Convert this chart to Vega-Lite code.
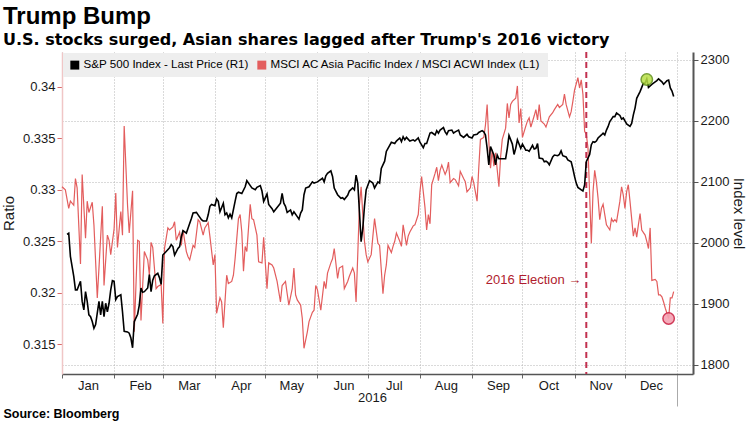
{
  "$schema": "https://vega.github.io/schema/vega-lite/v6.json",
  "width": 631,
  "height": 322,
  "autosize": {"type": "none"},
  "padding": {"left": 62, "top": 52, "right": 57, "bottom": 48},
  "background": "#ffffff",
  "config": {
    "font": "Liberation Sans",
    "view": {"stroke": null},
    "legend": {
      "orient": "top-left",
      "direction": "horizontal",
      "fillColor": "#eeeeee",
      "padding": 6,
      "offset": 1,
      "labelFontSize": 11.6,
      "labelColor": "#000000",
      "symbolType": "square",
      "symbolSize": 80,
      "labelOffset": 3,
      "columnPadding": 7,
      "labelLimit": 400
    }
  },
  "title": {
    "text": "Trump Bump",
    "subtitle": "U.S. stocks surged, Asian shares lagged after Trump's 2016 victory",
    "anchor": "start",
    "frame": "group",
    "dx": -59,
    "offset": 3,
    "fontSize": 24,
    "fontWeight": "bold",
    "color": "#000000",
    "subtitleFont": "DejaVu Sans",
    "subtitleFontSize": 16,
    "subtitleFontWeight": "bold",
    "subtitleColor": "#000000",
    "subtitlePadding": 3
  },
  "datasets": {
    "sp": [
      {"d":"2016/01/04","v":2014},{"d":"2016/01/05","v":2016},{"d":"2016/01/06","v":1978},{"d":"2016/01/08","v":1945},{"d":"2016/01/09","v":1923},{"d":"2016/01/10","v":1923},{"d":"2016/01/12","v":1937},{"d":"2016/01/13","v":1904},{"d":"2016/01/14","v":1890},{"d":"2016/01/15","v":1920},{"d":"2016/01/16","v":1904},{"d":"2016/01/17","v":1882},{"d":"2016/01/18","v":1879},{"d":"2016/01/19","v":1871},{"d":"2016/01/20","v":1860},{"d":"2016/01/21","v":1866},{"d":"2016/01/23","v":1904},{"d":"2016/01/24","v":1882},{"d":"2016/01/25","v":1904},{"d":"2016/01/26","v":1879},{"d":"2016/01/27","v":1901},{"d":"2016/01/28","v":1887},{"d":"2016/01/29","v":1901},{"d":"2016/01/30","v":1923},{"d":"2016/01/31","v":1938},
      {"d":"2016/02/01","v":1937},{"d":"2016/02/02","v":1907},{"d":"2016/02/03","v":1912},{"d":"2016/02/05","v":1915},{"d":"2016/02/06","v":1887},{"d":"2016/02/07","v":1855},{"d":"2016/02/09","v":1854},{"d":"2016/02/10","v":1852},{"d":"2016/02/11","v":1844},{"d":"2016/02/12","v":1828},{"d":"2016/02/13","v":1871},{"d":"2016/02/15","v":1883},{"d":"2016/02/16","v":1898},{"d":"2016/02/17","v":1926},{"d":"2016/02/18","v":1919},{"d":"2016/02/19","v":1920},{"d":"2016/02/21","v":1926},{"d":"2016/02/22","v":1948},{"d":"2016/02/23","v":1920},{"d":"2016/02/24","v":1939},{"d":"2016/02/25","v":1946},{"d":"2016/02/27","v":1950},{"d":"2016/02/28","v":1943},{"d":"2016/02/29","v":1932},
      {"d":"2016/03/01","v":1980},{"d":"2016/03/03","v":1986},{"d":"2016/03/05","v":1992},{"d":"2016/03/06","v":1997},{"d":"2016/03/07","v":1994},{"d":"2016/03/08","v":1980},{"d":"2016/03/10","v":1991},{"d":"2016/03/11","v":1994},{"d":"2016/03/12","v":2010},{"d":"2016/03/13","v":2020},{"d":"2016/03/15","v":2016},{"d":"2016/03/16","v":2024},{"d":"2016/03/18","v":2040},{"d":"2016/03/19","v":2049},{"d":"2016/03/21","v":2050},{"d":"2016/03/22","v":2046},{"d":"2016/03/24","v":2038},{"d":"2016/03/25","v":2036},{"d":"2016/03/27","v":2036},{"d":"2016/03/28","v":2046},{"d":"2016/03/29","v":2060},{"d":"2016/03/30","v":2063},
      {"d":"2016/04/01","v":2061},{"d":"2016/04/02","v":2072},{"d":"2016/04/03","v":2068},{"d":"2016/04/04","v":2051},{"d":"2016/04/06","v":2065},{"d":"2016/04/07","v":2046},{"d":"2016/04/08","v":2049},{"d":"2016/04/09","v":2041},{"d":"2016/04/10","v":2047},{"d":"2016/04/11","v":2041},{"d":"2016/04/13","v":2068},{"d":"2016/04/14","v":2081},{"d":"2016/04/15","v":2083},{"d":"2016/04/17","v":2081},{"d":"2016/04/19","v":2092},{"d":"2016/04/20","v":2102},{"d":"2016/04/21","v":2098},{"d":"2016/04/23","v":2090},{"d":"2016/04/25","v":2087},{"d":"2016/04/26","v":2091},{"d":"2016/04/28","v":2094},{"d":"2016/04/29","v":2085},{"d":"2016/04/30","v":2068},
      {"d":"2016/05/02","v":2080},{"d":"2016/05/03","v":2063},{"d":"2016/05/05","v":2056},{"d":"2016/05/06","v":2051},{"d":"2016/05/08","v":2058},{"d":"2016/05/10","v":2065},{"d":"2016/05/11","v":2081},{"d":"2016/05/12","v":2065},{"d":"2016/05/13","v":2060},{"d":"2016/05/14","v":2050},{"d":"2016/05/16","v":2054},{"d":"2016/05/17","v":2046},{"d":"2016/05/18","v":2051},{"d":"2016/05/20","v":2043},{"d":"2016/05/21","v":2039},{"d":"2016/05/22","v":2049},{"d":"2016/05/23","v":2054},{"d":"2016/05/24","v":2079},{"d":"2016/05/25","v":2090},{"d":"2016/05/27","v":2092},{"d":"2016/05/29","v":2100},{"d":"2016/05/30","v":2098},
      {"d":"2016/06/01","v":2100},{"d":"2016/06/02","v":2102},{"d":"2016/06/04","v":2106},{"d":"2016/06/05","v":2100},{"d":"2016/06/06","v":2110},{"d":"2016/06/07","v":2114},{"d":"2016/06/09","v":2118},{"d":"2016/06/10","v":2109},{"d":"2016/06/11","v":2090},{"d":"2016/06/13","v":2079},{"d":"2016/06/15","v":2073},{"d":"2016/06/16","v":2074},{"d":"2016/06/17","v":2071},{"d":"2016/06/19","v":2078},{"d":"2016/06/20","v":2085},{"d":"2016/06/22","v":2090},{"d":"2016/06/23","v":2087},{"d":"2016/06/24","v":2111},{"d":"2016/06/25","v":2098},{"d":"2016/06/26","v":2051},{"d":"2016/06/27","v":2002},{"d":"2016/06/28","v":2024},{"d":"2016/06/29","v":2060},{"d":"2016/06/30","v":2087},
      {"d":"2016/07/02","v":2102},{"d":"2016/07/04","v":2098},{"d":"2016/07/05","v":2090},{"d":"2016/07/07","v":2100},{"d":"2016/07/08","v":2098},{"d":"2016/07/09","v":2122},{"d":"2016/07/11","v":2134},{"d":"2016/07/12","v":2150},{"d":"2016/07/13","v":2155},{"d":"2016/07/14","v":2160},{"d":"2016/07/15","v":2165},{"d":"2016/07/17","v":2163},{"d":"2016/07/18","v":2167},{"d":"2016/07/20","v":2172},{"d":"2016/07/21","v":2166},{"d":"2016/07/22","v":2174},{"d":"2016/07/23","v":2169},{"d":"2016/07/24","v":2173},{"d":"2016/07/26","v":2167},{"d":"2016/07/28","v":2169},{"d":"2016/07/29","v":2167},{"d":"2016/07/31","v":2172},
      {"d":"2016/08/01","v":2165},{"d":"2016/08/03","v":2156},{"d":"2016/08/04","v":2163},{"d":"2016/08/05","v":2163},{"d":"2016/08/07","v":2180},{"d":"2016/08/08","v":2181},{"d":"2016/08/10","v":2177},{"d":"2016/08/11","v":2184},{"d":"2016/08/12","v":2180},{"d":"2016/08/13","v":2185},{"d":"2016/08/15","v":2189},{"d":"2016/08/16","v":2182},{"d":"2016/08/17","v":2178},{"d":"2016/08/18","v":2184},{"d":"2016/08/20","v":2185},{"d":"2016/08/21","v":2180},{"d":"2016/08/22","v":2182},{"d":"2016/08/24","v":2185},{"d":"2016/08/25","v":2177},{"d":"2016/08/27","v":2173},{"d":"2016/08/29","v":2178},{"d":"2016/08/30","v":2174},
      {"d":"2016/09/01","v":2172},{"d":"2016/09/02","v":2177},{"d":"2016/09/04","v":2178},{"d":"2016/09/05","v":2181},{"d":"2016/09/07","v":2184},{"d":"2016/09/08","v":2182},{"d":"2016/09/09","v":2177},{"d":"2016/09/10","v":2155},{"d":"2016/09/11","v":2128},{"d":"2016/09/12","v":2158},{"d":"2016/09/14","v":2144},{"d":"2016/09/15","v":2128},{"d":"2016/09/16","v":2144},{"d":"2016/09/17","v":2138},{"d":"2016/09/19","v":2138},{"d":"2016/09/21","v":2138},{"d":"2016/09/22","v":2155},{"d":"2016/09/23","v":2176},{"d":"2016/09/25","v":2162},{"d":"2016/09/26","v":2145},{"d":"2016/09/27","v":2155},{"d":"2016/09/28","v":2169},{"d":"2016/09/30","v":2155},
      {"d":"2016/10/01","v":2162},{"d":"2016/10/03","v":2152},{"d":"2016/10/04","v":2152},{"d":"2016/10/05","v":2150},{"d":"2016/10/07","v":2160},{"d":"2016/10/08","v":2154},{"d":"2016/10/09","v":2155},{"d":"2016/10/10","v":2163},{"d":"2016/10/11","v":2139},{"d":"2016/10/13","v":2138},{"d":"2016/10/14","v":2133},{"d":"2016/10/15","v":2134},{"d":"2016/10/16","v":2132},{"d":"2016/10/17","v":2128},{"d":"2016/10/19","v":2141},{"d":"2016/10/20","v":2144},{"d":"2016/10/22","v":2143},{"d":"2016/10/23","v":2145},{"d":"2016/10/24","v":2151},{"d":"2016/10/25","v":2143},{"d":"2016/10/27","v":2141},{"d":"2016/10/28","v":2136},{"d":"2016/10/30","v":2133},{"d":"2016/10/31","v":2122},
      {"d":"2016/11/01","v":2109},{"d":"2016/11/02","v":2098},{"d":"2016/11/03","v":2091},{"d":"2016/11/05","v":2087},{"d":"2016/11/06","v":2085},{"d":"2016/11/07","v":2095},{"d":"2016/11/08","v":2133},{"d":"2016/11/09","v":2139},{"d":"2016/11/10","v":2145},{"d":"2016/11/11","v":2161},{"d":"2016/11/12","v":2166},{"d":"2016/11/13","v":2165},{"d":"2016/11/14","v":2167},{"d":"2016/11/15","v":2172},{"d":"2016/11/17","v":2177},{"d":"2016/11/18","v":2180},{"d":"2016/11/19","v":2177},{"d":"2016/11/20","v":2185},{"d":"2016/11/21","v":2191},{"d":"2016/11/22","v":2199},{"d":"2016/11/23","v":2203},{"d":"2016/11/24","v":2207},{"d":"2016/11/25","v":2207},{"d":"2016/11/26","v":2213},{"d":"2016/11/28","v":2209},{"d":"2016/11/29","v":2203},{"d":"2016/11/30","v":2205},
      {"d":"2016/12/01","v":2200},{"d":"2016/12/02","v":2195},{"d":"2016/12/04","v":2191},{"d":"2016/12/05","v":2196},{"d":"2016/12/06","v":2210},{"d":"2016/12/07","v":2221},{"d":"2016/12/08","v":2237},{"d":"2016/12/10","v":2248},{"d":"2016/12/11","v":2255},{"d":"2016/12/12","v":2262},{"d":"2016/12/13","v":2262},{"d":"2016/12/14","v":2269},{"d":"2016/12/15","v":2255},{"d":"2016/12/17","v":2260},{"d":"2016/12/18","v":2262},{"d":"2016/12/19","v":2264},{"d":"2016/12/20","v":2266},{"d":"2016/12/21","v":2269},{"d":"2016/12/23","v":2264},{"d":"2016/12/24","v":2260},{"d":"2016/12/25","v":2263},{"d":"2016/12/26","v":2266},{"d":"2016/12/27","v":2267},{"d":"2016/12/28","v":2254},{"d":"2016/12/29","v":2249},{"d":"2016/12/30","v":2240}
    ],
    "ratio": [
      {"d":"2016/01/01","r":0.3303},{"d":"2016/01/03","r":0.3300},{"d":"2016/01/05","r":0.3282},{"d":"2016/01/06","r":0.3289},{"d":"2016/01/08","r":0.3285},{"d":"2016/01/09","r":0.3311},{"d":"2016/01/10","r":0.3302},{"d":"2016/01/12","r":0.3228},{"d":"2016/01/13","r":0.3315},{"d":"2016/01/15","r":0.3253},{"d":"2016/01/16","r":0.3289},{"d":"2016/01/17","r":0.3278},{"d":"2016/01/19","r":0.3288},{"d":"2016/01/20","r":0.3266},{"d":"2016/01/22","r":0.3195},{"d":"2016/01/23","r":0.3224},{"d":"2016/01/25","r":0.3284},{"d":"2016/01/26","r":0.3207},{"d":"2016/01/28","r":0.3256},{"d":"2016/01/29","r":0.3251},{"d":"2016/01/30","r":0.3237},
      {"d":"2016/02/01","r":0.3262},{"d":"2016/02/02","r":0.3297},{"d":"2016/02/03","r":0.3244},{"d":"2016/02/05","r":0.3279},{"d":"2016/02/06","r":0.3256},{"d":"2016/02/07","r":0.3362},{"d":"2016/02/09","r":0.3285},{"d":"2016/02/10","r":0.3258},{"d":"2016/02/12","r":0.3299},{"d":"2016/02/13","r":0.3162},{"d":"2016/02/15","r":0.3251},{"d":"2016/02/16","r":0.3250},{"d":"2016/02/17","r":0.3173},{"d":"2016/02/19","r":0.3240},{"d":"2016/02/21","r":0.3232},{"d":"2016/02/22","r":0.3217},{"d":"2016/02/23","r":0.3249},{"d":"2016/02/24","r":0.3244},{"d":"2016/02/26","r":0.3204},{"d":"2016/02/27","r":0.3206},{"d":"2016/02/29","r":0.3208},
      {"d":"2016/03/01","r":0.3170},{"d":"2016/03/02","r":0.3243},{"d":"2016/03/04","r":0.3263},{"d":"2016/03/05","r":0.3261},{"d":"2016/03/07","r":0.3264},{"d":"2016/03/08","r":0.3269},{"d":"2016/03/09","r":0.3251},{"d":"2016/03/11","r":0.3259},{"d":"2016/03/12","r":0.3246},{"d":"2016/03/13","r":0.3261},{"d":"2016/03/15","r":0.3240},{"d":"2016/03/16","r":0.3235},{"d":"2016/03/17","r":0.3232},{"d":"2016/03/19","r":0.3246},{"d":"2016/03/20","r":0.3244},{"d":"2016/03/22","r":0.3271},{"d":"2016/03/23","r":0.3269},{"d":"2016/03/25","r":0.3256},{"d":"2016/03/26","r":0.3263},{"d":"2016/03/28","r":0.3268},{"d":"2016/03/29","r":0.3255},{"d":"2016/03/31","r":0.3227},
      {"d":"2016/04/01","r":0.3237},{"d":"2016/04/02","r":0.3180},{"d":"2016/04/04","r":0.3195},{"d":"2016/04/05","r":0.3191},{"d":"2016/04/06","r":0.3166},{"d":"2016/04/08","r":0.3217},{"d":"2016/04/09","r":0.3209},{"d":"2016/04/11","r":0.3211},{"d":"2016/04/12","r":0.3217},{"d":"2016/04/13","r":0.3233},{"d":"2016/04/15","r":0.3272},{"d":"2016/04/16","r":0.3276},{"d":"2016/04/17","r":0.3259},{"d":"2016/04/18","r":0.3221},{"d":"2016/04/19","r":0.3245},{"d":"2016/04/20","r":0.3240},{"d":"2016/04/22","r":0.3286},{"d":"2016/04/23","r":0.3272},{"d":"2016/04/24","r":0.3271},{"d":"2016/04/26","r":0.3256},{"d":"2016/04/27","r":0.3230},{"d":"2016/04/29","r":0.3229},{"d":"2016/04/30","r":0.3254},
      {"d":"2016/05/02","r":0.3204},{"d":"2016/05/03","r":0.3229},{"d":"2016/05/05","r":0.3227},{"d":"2016/05/06","r":0.3224},{"d":"2016/05/08","r":0.3211},{"d":"2016/05/10","r":0.3191},{"d":"2016/05/11","r":0.3207},{"d":"2016/05/13","r":0.3211},{"d":"2016/05/14","r":0.3199},{"d":"2016/05/15","r":0.3188},{"d":"2016/05/17","r":0.3204},{"d":"2016/05/18","r":0.3224},{"d":"2016/05/19","r":0.3198},{"d":"2016/05/20","r":0.3193},{"d":"2016/05/22","r":0.3188},{"d":"2016/05/23","r":0.3175},{"d":"2016/05/24","r":0.3146},{"d":"2016/05/26","r":0.3162},{"d":"2016/05/27","r":0.3172},{"d":"2016/05/29","r":0.3181},{"d":"2016/05/30","r":0.3183},{"d":"2016/05/31","r":0.3207},
      {"d":"2016/06/01","r":0.3203},{"d":"2016/06/03","r":0.3183},{"d":"2016/06/05","r":0.3211},{"d":"2016/06/06","r":0.3204},{"d":"2016/06/07","r":0.3219},{"d":"2016/06/09","r":0.3229},{"d":"2016/06/10","r":0.3233},{"d":"2016/06/11","r":0.3243},{"d":"2016/06/13","r":0.3214},{"d":"2016/06/14","r":0.3224},{"d":"2016/06/16","r":0.3226},{"d":"2016/06/17","r":0.3204},{"d":"2016/06/19","r":0.3211},{"d":"2016/06/20","r":0.3216},{"d":"2016/06/22","r":0.3224},{"d":"2016/06/23","r":0.3219},{"d":"2016/06/24","r":0.3191},{"d":"2016/06/25","r":0.3237},{"d":"2016/06/26","r":0.3285},{"d":"2016/06/27","r":0.3303},{"d":"2016/06/28","r":0.3276},{"d":"2016/06/29","r":0.3250},{"d":"2016/06/30","r":0.3237},
      {"d":"2016/07/01","r":0.3230},{"d":"2016/07/03","r":0.3237},{"d":"2016/07/04","r":0.3255},{"d":"2016/07/05","r":0.3272},{"d":"2016/07/07","r":0.3248},{"d":"2016/07/08","r":0.3246},{"d":"2016/07/10","r":0.3199},{"d":"2016/07/11","r":0.3217},{"d":"2016/07/12","r":0.3227},{"d":"2016/07/13","r":0.3246},{"d":"2016/07/15","r":0.3239},{"d":"2016/07/16","r":0.3245},{"d":"2016/07/17","r":0.3250},{"d":"2016/07/18","r":0.3258},{"d":"2016/07/20","r":0.3250},{"d":"2016/07/21","r":0.3245},{"d":"2016/07/22","r":0.3266},{"d":"2016/07/24","r":0.3246},{"d":"2016/07/25","r":0.3255},{"d":"2016/07/26","r":0.3259},{"d":"2016/07/28","r":0.3265},{"d":"2016/07/29","r":0.3266},{"d":"2016/07/31","r":0.3276},
      {"d":"2016/08/01","r":0.3298},{"d":"2016/08/02","r":0.3313},{"d":"2016/08/04","r":0.3283},{"d":"2016/08/05","r":0.3261},{"d":"2016/08/06","r":0.3276},{"d":"2016/08/07","r":0.3267},{"d":"2016/08/08","r":0.3305},{"d":"2016/08/10","r":0.3316},{"d":"2016/08/11","r":0.3322},{"d":"2016/08/12","r":0.3309},{"d":"2016/08/13","r":0.3319},{"d":"2016/08/14","r":0.3324},{"d":"2016/08/16","r":0.3315},{"d":"2016/08/17","r":0.3319},{"d":"2016/08/18","r":0.3327},{"d":"2016/08/19","r":0.3307},{"d":"2016/08/21","r":0.3311},{"d":"2016/08/22","r":0.3310},{"d":"2016/08/24","r":0.3304},{"d":"2016/08/25","r":0.3318},{"d":"2016/08/27","r":0.3311},{"d":"2016/08/28","r":0.3308},{"d":"2016/08/29","r":0.3298},{"d":"2016/08/31","r":0.3302},
      {"d":"2016/09/01","r":0.3313},{"d":"2016/09/02","r":0.3307},{"d":"2016/09/04","r":0.3289},{"d":"2016/09/05","r":0.3321},{"d":"2016/09/06","r":0.3349},{"d":"2016/09/08","r":0.3351},{"d":"2016/09/09","r":0.3363},{"d":"2016/09/10","r":0.3383},{"d":"2016/09/11","r":0.3347},{"d":"2016/09/12","r":0.3321},{"d":"2016/09/13","r":0.3339},{"d":"2016/09/14","r":0.3323},{"d":"2016/09/15","r":0.3336},{"d":"2016/09/17","r":0.3303},{"d":"2016/09/18","r":0.3332},{"d":"2016/09/19","r":0.3349},{"d":"2016/09/21","r":0.3360},{"d":"2016/09/22","r":0.3384},{"d":"2016/09/23","r":0.3370},{"d":"2016/09/24","r":0.3383},{"d":"2016/09/25","r":0.3386},{"d":"2016/09/27","r":0.3389},{"d":"2016/09/28","r":0.3401},{"d":"2016/09/29","r":0.3365},{"d":"2016/09/30","r":0.3379},
      {"d":"2016/10/01","r":0.3351},{"d":"2016/10/03","r":0.3362},{"d":"2016/10/04","r":0.3367},{"d":"2016/10/05","r":0.3370},{"d":"2016/10/06","r":0.3361},{"d":"2016/10/08","r":0.3372},{"d":"2016/10/09","r":0.3378},{"d":"2016/10/10","r":0.3368},{"d":"2016/10/11","r":0.3383},{"d":"2016/10/12","r":0.3367},{"d":"2016/10/14","r":0.3364},{"d":"2016/10/15","r":0.3361},{"d":"2016/10/17","r":0.3371},{"d":"2016/10/19","r":0.3375},{"d":"2016/10/20","r":0.3378},{"d":"2016/10/22","r":0.3383},{"d":"2016/10/23","r":0.3380},{"d":"2016/10/25","r":0.3383},{"d":"2016/10/26","r":0.3393},{"d":"2016/10/27","r":0.3383},{"d":"2016/10/29","r":0.3371},{"d":"2016/10/30","r":0.3376},{"d":"2016/10/31","r":0.3386},
      {"d":"2016/11/01","r":0.3397},{"d":"2016/11/03","r":0.3409},{"d":"2016/11/04","r":0.3399},{"d":"2016/11/05","r":0.3407},{"d":"2016/11/06","r":0.3393},{"d":"2016/11/07","r":0.3357},{"d":"2016/11/08","r":0.3354},{"d":"2016/11/09","r":0.3341},{"d":"2016/11/10","r":0.3295},{"d":"2016/11/11","r":0.3248},{"d":"2016/11/12","r":0.3298},{"d":"2016/11/13","r":0.3319},{"d":"2016/11/14","r":0.3308},{"d":"2016/11/15","r":0.3292},{"d":"2016/11/16","r":0.3271},{"d":"2016/11/17","r":0.3282},{"d":"2016/11/18","r":0.3286},{"d":"2016/11/19","r":0.3276},{"d":"2016/11/20","r":0.3266},{"d":"2016/11/22","r":0.3261},{"d":"2016/11/23","r":0.3272},{"d":"2016/11/24","r":0.3269},{"d":"2016/11/25","r":0.3271},{"d":"2016/11/26","r":0.3269},{"d":"2016/11/28","r":0.3289},{"d":"2016/11/29","r":0.3303},{"d":"2016/11/30","r":0.3295},
      {"d":"2016/12/01","r":0.3282},{"d":"2016/12/02","r":0.3298},{"d":"2016/12/03","r":0.3305},{"d":"2016/12/04","r":0.3289},{"d":"2016/12/06","r":0.3255},{"d":"2016/12/07","r":0.3263},{"d":"2016/12/08","r":0.3254},{"d":"2016/12/09","r":0.3266},{"d":"2016/12/10","r":0.3277},{"d":"2016/12/11","r":0.3261},{"d":"2016/12/13","r":0.3256},{"d":"2016/12/14","r":0.3250},{"d":"2016/12/15","r":0.3243},{"d":"2016/12/16","r":0.3263},{"d":"2016/12/17","r":0.3212},{"d":"2016/12/19","r":0.3213},{"d":"2016/12/20","r":0.3211},{"d":"2016/12/21","r":0.3198},{"d":"2016/12/22","r":0.3198},{"d":"2016/12/23","r":0.3196},{"d":"2016/12/24","r":0.3191},{"d":"2016/12/25","r":0.3185},{"d":"2016/12/26","r":0.3180},{"d":"2016/12/27","r":0.3175},{"d":"2016/12/28","r":0.3195},{"d":"2016/12/29","r":0.3195},{"d":"2016/12/30","r":0.3201}
    ]
  },
  "layer": [
    {
      "layer": [
        {
          "data": {"name": "ratio"},
          "mark": {"type": "line", "strokeWidth": 1.2, "interpolate": "linear"},
          "encoding": {
            "x": {
              "field": "d",
              "type": "temporal",
              "scale": {"domain": [{"year": 2016, "month": 1, "date": 1}, {"year": 2017, "month": 1, "date": 10, "hours": 12}]},
              "axis": {
                "orient": "bottom",
                "values": [
                  {"year": 2016, "month": 1, "date": 1}, {"year": 2016, "month": 2, "date": 1}, {"year": 2016, "month": 3, "date": 1},
                  {"year": 2016, "month": 4, "date": 1}, {"year": 2016, "month": 5, "date": 1}, {"year": 2016, "month": 6, "date": 1},
                  {"year": 2016, "month": 7, "date": 1}, {"year": 2016, "month": 8, "date": 1}, {"year": 2016, "month": 9, "date": 1},
                  {"year": 2016, "month": 10, "date": 1}, {"year": 2016, "month": 11, "date": 1}, {"year": 2016, "month": 12, "date": 1},
                  {"year": 2017, "month": 1, "date": 1}
                ],
                "format": "%b",
                "labelExpr": "year(datum.value) > 2016 ? '' : datum.label",
                "labelOffset": 26,
                "labelAlign": "center",
                "labelFontSize": 13,
                "labelColor": "#1a1a1a",
                "labelPadding": 1,
                "labelBound": false,
                "labelOverlap": false,
                "tickSize": {"condition": {"test": "year(datum.value) > 2016", "value": 32}, "value": 4},
                "tickColor": {"condition": {"test": "year(datum.value) > 2016", "value": "#aaaaaa"}, "value": "#666666"},
                "grid": true,
                "gridDash": [1, 2],
                "gridColor": "#b5b5b5",
                "domainColor": "#555555",
                "domainWidth": 1.5,
                "title": "2016",
                "titleFontSize": 13,
                "titleFontWeight": "normal",
                "titleColor": "#1a1a1a",
                "titleX": 310,
                "titleY": 23,
                "titleBaseline": "middle",
                "titleAlign": "center"
              }
            },
            "y": {
              "field": "r",
              "type": "quantitative",
              "scale": {"domain": [0.3121, 0.3434], "nice": false, "zero": false},
              "axis": {
                "orient": "left",
                "values": [0.315, 0.32, 0.325, 0.33, 0.335, 0.34],
                "format": ".3~f",
                "tickSize": 5,
                "tickColor": "#d96b6b",
                "domainColor": "#f0c6c6",
                "domainWidth": 1.5,
                "grid": false,
                "labelFontSize": 13,
                "labelColor": "#1a1a1a",
                "labelPadding": 2,
                "title": "Ratio",
                "titleFontSize": 15,
                "titleFontWeight": "normal",
                "titleColor": "#1a1a1a",
                "titlePadding": 6
              }
            },
            "color": {
              "datum": "MSCI AC Asia Pacific Index / MSCI ACWI Index (L1)",
              "type": "nominal",
              "scale": {
                "domain": ["S&P 500 Index - Last Price (R1)", "MSCI AC Asia Pacific Index / MSCI ACWI Index (L1)"],
                "range": ["#000000", "#e35d5d"]
              },
              "legend": {
                "title": null,
                "encode": {
                  "symbols": {"update": {"fill": {"scale": "color", "field": "value"}, "strokeWidth": {"value": 0}}}
                }
              }
            }
          }
        },
        {
          "data": {"values": [{"d": "2016/12/27", "r": 0.3175}]},
          "mark": {"type": "point", "filled": true, "size": 130, "fill": "#f5a3b3", "stroke": "#cc2748", "strokeWidth": 1.5, "opacity": 0.9},
          "encoding": {
            "x": {"field": "d", "type": "temporal"},
            "y": {"field": "r", "type": "quantitative"}
          }
        },
        {
          "data": {"values": [{}]},
          "mark": {"type": "rule", "color": "#c2304f", "strokeWidth": 2, "strokeDash": [6, 4]},
          "encoding": {
            "x": {"datum": {"year": 2016, "month": 11, "date": 8}, "type": "temporal"}
          }
        },
        {
          "data": {"values": [{}]},
          "mark": {"type": "text", "text": "2016 Election \u2192", "align": "right", "baseline": "middle", "fontSize": 13, "color": "#b01c2e"},
          "encoding": {
            "x": {"datum": {"year": 2016, "month": 11, "date": 5}, "type": "temporal"},
            "y": {"datum": 0.3212, "type": "quantitative"}
          }
        }
      ]
    },
    {
      "layer": [
        {
          "data": {"name": "sp"},
          "mark": {"type": "line", "strokeWidth": 1.6},
          "encoding": {
            "x": {
              "field": "d",
              "type": "temporal",
              "axis": {
                "orient": "bottom",
                "labels": false,
                "ticks": false,
                "domain": false,
                "grid": false,
                "title": "Source: Bloomberg",
                "titleFontSize": 12.5,
                "titleFontWeight": "bold",
                "titleColor": "#000000",
                "titleAlign": "left",
                "titleAnchor": "start",
                "titleBaseline": "middle",
                "titleX": -59,
                "titleY": 39
              }
            },
            "y": {
              "field": "v",
              "type": "quantitative",
              "scale": {"domain": [1785, 2313], "nice": false, "zero": false},
              "axis": {
                "orient": "right",
                "values": [1800, 1850, 1900, 1950, 2000, 2050, 2100, 2150, 2200, 2250, 2300],
                "format": "d",
                "labelExpr": "datum.value % 100 === 0 ? datum.label : ''",
                "tickSize": {"condition": {"test": "datum.value % 100 === 0", "value": 5}, "value": 3},
                "tickColor": "#555555",
                "domainColor": "#555555",
                "domainWidth": 2,
                "grid": true,
                "gridDash": [1, 2],
                "gridColor": "#b5b5b5",
                "gridOpacity": {"condition": {"test": "datum.value % 100 === 0", "value": 1}, "value": 0},
                "labelFontSize": 13,
                "labelColor": "#1a1a1a",
                "labelPadding": 2,
                "title": "Index level",
                "titleFontSize": 15,
                "titleFontWeight": "normal",
                "titleColor": "#1a1a1a",
                "titlePadding": 2
              }
            },
            "color": {"datum": "S&P 500 Index - Last Price (R1)", "type": "nominal"}
          }
        },
        {
          "data": {"values": [{"d": "2016/12/14", "v": 2268}]},
          "mark": {"type": "point", "filled": true, "size": 130, "fill": "#b8e045", "stroke": "#5f8f16", "strokeWidth": 1.5, "opacity": 0.85},
          "encoding": {
            "x": {"field": "d", "type": "temporal"},
            "y": {"field": "v", "type": "quantitative"}
          }
        }
      ]
    }
  ],
  "resolve": {"scale": {"y": "independent"}, "axis": {"x": "independent"}}
}
